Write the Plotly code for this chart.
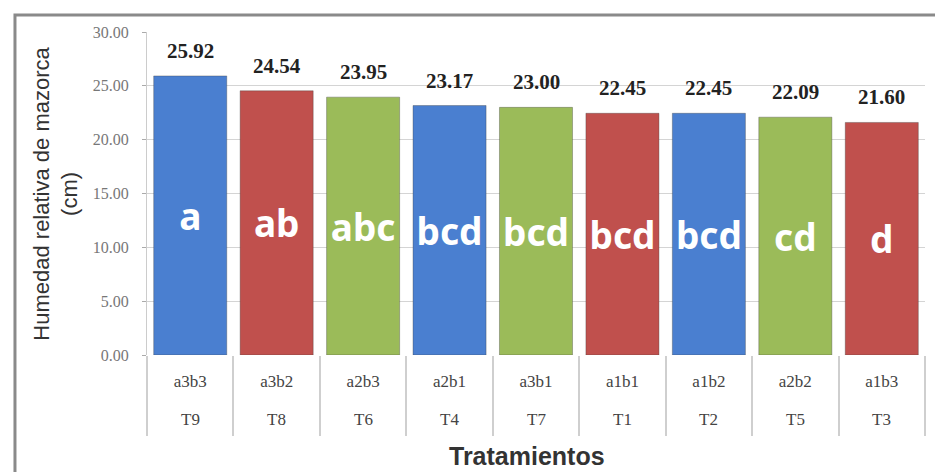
import plotly.graph_objects as go

treatments = ["T9", "T8", "T6", "T4", "T7", "T1", "T2", "T5", "T3"]
combos = ["a3b3", "a3b2", "a2b3", "a2b1", "a3b1", "a1b1", "a1b2", "a2b2", "a1b3"]
values = [25.92, 24.54, 23.95, 23.17, 23.00, 22.45, 22.45, 22.09, 21.60]
letters = ["a", "ab", "abc", "bcd", "bcd", "bcd", "bcd", "cd", "d"]
colors = ["#4a7fd0", "#c0504d", "#9bbb59", "#4a7fd0", "#9bbb59", "#c0504d", "#4a7fd0", "#9bbb59", "#c0504d"]
y_ticks = [0, 5, 10, 15, 20, 25, 30]

cats = [f"{c}|{t}" for c, t in zip(combos, treatments)]

fig = go.Figure()
fig.add_trace(go.Bar(
    x=cats, y=values,
    marker=dict(color=colors, line=dict(color="rgba(60,60,60,0.35)", width=1)),
    text=letters, textposition="inside", insidetextanchor="middle",
    textfont=dict(family="Noto Sans", size=37, color="white", weight="bold"),
    textangle=0, hoverinfo="skip", showlegend=False,
))

annotations = [
    dict(x=c, y=v, xref="x", yref="y", text=f"<b>{v:.2f}</b>", showarrow=False,
         yanchor="bottom", yshift=11,
         font=dict(family="Liberation Serif", size=21, color="#222"))
    for c, v in zip(cats, values)
]
annotations += [
    dict(x=c, y=-0.201, xref="x", yref="paper", text=t, showarrow=False,
         yanchor="middle", xanchor="center",
         font=dict(family="Liberation Serif", size=17, color="#444"))
    for c, t in zip(cats, treatments)
]
annotations += [
    dict(text="Humedad relativa de mazorca<br>(cm)", xref="paper", yref="paper",
         x=-0.118, y=0.5, xanchor="center", yanchor="middle",
         textangle=-90, showarrow=False,
         font=dict(family="Liberation Sans", size=22, color="#333")),
    dict(text="<b>Tratamientos</b>", xref="paper", yref="paper",
         x=0.488, y=-0.313, xanchor="center", yanchor="middle", showarrow=False,
         font=dict(family="Liberation Sans", size=25, color="#333")),
]

fig.update_layout(
    width=943, height=472,
    margin=dict(l=139, r=26, t=24, b=125),
    paper_bgcolor="white", plot_bgcolor="white",
    bargap=0.155,
    xaxis=dict(
        type="category",
        tickvals=cats, ticktext=combos,
        tickfont=dict(family="Liberation Serif", size=17, color="#444"),
        showline=False, showgrid=False, zeroline=False,
        tickson="boundaries", ticks="outside", ticklen=80,
        tickcolor="#cfcfcf", tickwidth=2,
        ticklabelstandoff=14, automargin=False,
    ),
    yaxis=dict(
        range=[0, 30], tickvals=y_ticks,
        ticktext=[f"{v:.2f}" for v in y_ticks],
        tickfont=dict(family="Liberation Serif", size=16, color="#777"),
        showgrid=True, gridcolor="#d4d4d4", gridwidth=1,
        showline=True, linecolor="#cccccc", linewidth=1,
        ticks="outside", ticklen=4, tickcolor="#aaaaaa",
        zeroline=False, ticklabelstandoff=10, automargin=False,
    ),
    annotations=annotations,
    shapes=[
        dict(type="rect", xref="paper", yref="paper",
             x0=-0.1697, x1=1.04, y0=-0.40, y1=1.0526,
             line=dict(color="#8a8a8a", width=3), layer="below"),
    ],
)

fig.write_html("out.html")
